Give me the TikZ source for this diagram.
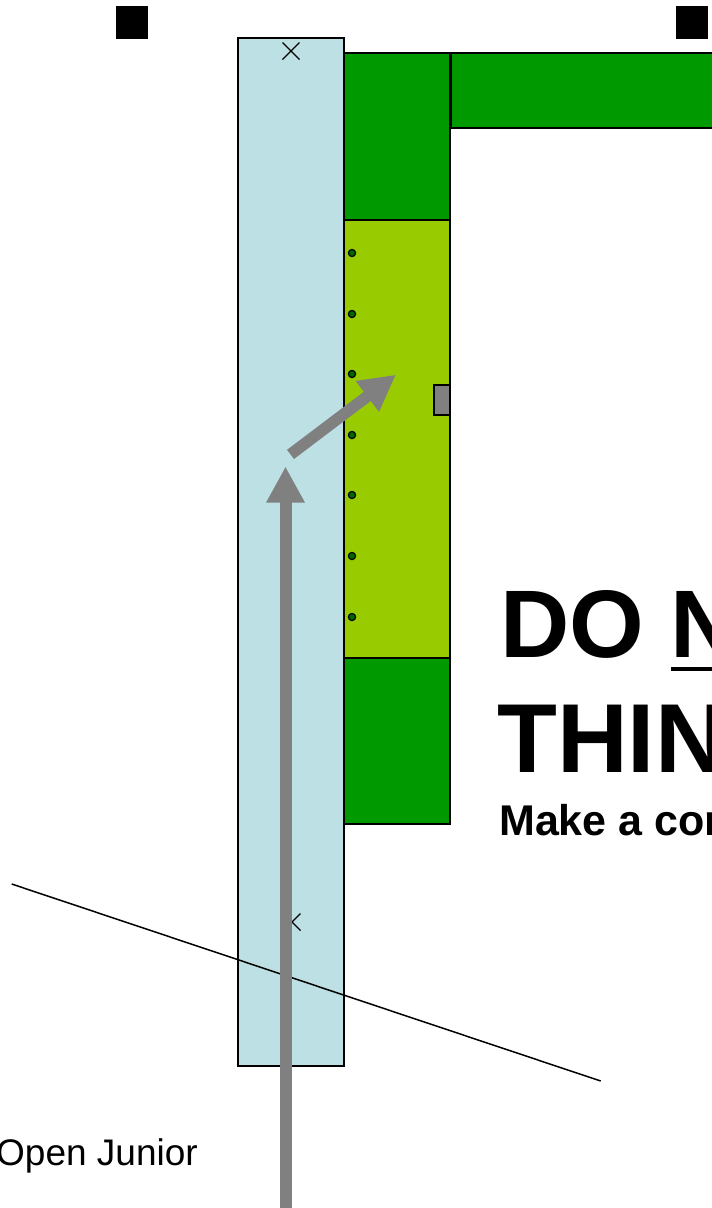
\documentclass[tikz,border=0pt]{standalone}
\usepackage{fontspec}
\setmainfont{Liberation Sans}
\usepackage{tikz}
\usetikzlibrary{arrows.meta}
\definecolor{pole}{RGB}{188,224,227}
\definecolor{frame}{RGB}{0,153,0}
\definecolor{panel}{RGB}{153,204,0}
\definecolor{pin}{RGB}{0,102,0}

\begin{document}
\begin{tikzpicture}[x=1pt, y=-1pt,
    block/.style={draw=black, line width=1.6pt},
    pinhole/.style={draw=black, line width=1.2pt, fill=pin},
    cross/.style={line width=1.2pt},
    move/.style={draw=gray, line width=12pt, -{Triangle[length=36pt,width=36pt]}},
    warn/.style={anchor=base west, inner sep=0pt}]
  \useasboundingbox (0,0) rectangle (712,1208);
  \clip (0,0) rectangle (712,1208);
  \def\h{8.5}
  % markers
  \fill (116,6) rectangle (148,39);
  \fill (676,6) rectangle (708,39);
  % pole and frame
  \draw[block, fill=pole] (238,38) rectangle (344,1066);
  \draw[cross] (291-\h,51-\h) -- (291+\h,51+\h) (291-\h,51+\h) -- (291+\h,51-\h);
  \draw[block, fill=frame] (344,53) rectangle (450,220);
  \draw[block, fill=frame] (451,53) rectangle (730,128);
  \draw[block, fill=panel] (344,220) rectangle (450,658);
  \draw[block, fill=frame] (344,658) rectangle (450,824);
  \foreach \y in {253,314,374,435,495,556,617}
    \draw[pinhole] (352,\y) circle (3.6pt);
  \draw[block, line width=1.2pt, fill=gray] (434,385) rectangle (450,415);
  \draw[line width=1.5pt] (11.7,884) -- (600.7,1081);
  \draw[cross] (292-\h,922-\h) -- (292+\h,922+\h) (292-\h,922+\h) -- (292+\h,922-\h);
  % moves
  \coordinate (start) at (285.5,1215);
  \coordinate (turn) at (285.5,466.5);
  \coordinate (off) at (290.5,454.4);
  \coordinate (slot) at (396,374.7);
  \draw[move] (start) -- (turn);
  \draw[move, line width=11.5pt] (off) -- (slot);
  % texts
  \node[warn, font=\fontsize{96pt}{96pt}\selectfont\bfseries] (donot) at (500,657)
    {DO \rlap{\rule[-14pt]{69pt}{4pt}}N};
  \node[warn, font=\fontsize{98pt}{98pt}\selectfont\bfseries] (thin) at (497,772) {THIN};
  \node[warn, font=\fontsize{43pt}{43pt}\selectfont\bfseries] (make) at (499,835) {Make a cor};
  \node[warn, font=\fontsize{37pt}{37pt}\selectfont] (open) at (-4,1165) {Open Junior};
\end{tikzpicture}
\end{document}
